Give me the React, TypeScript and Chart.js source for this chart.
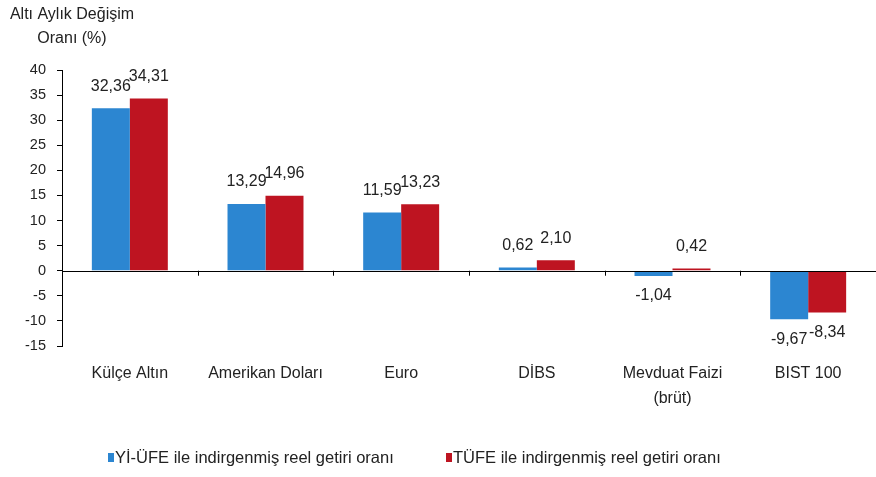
import { useEffect, useRef } from "react";
import { Chart, registerables } from "chart.js";

Chart.register(...registerables);

const categories: (string | string[])[] = [
  "Külçe Altın",
  "Amerikan Doları",
  "Euro",
  "DİBS",
  ["Mevduat Faizi", "(brüt)"],
  "BIST 100",
];
const yiUfeValues = [32.36, 13.29, 11.59, 0.62, -1.04, -9.67];
const tufeValues = [34.31, 14.96, 13.23, 2.1, 0.42, -8.34];
const seriesNames = [
  "Yİ-ÜFE ile indirgenmiş reel getiri oranı",
  "TÜFE ile indirgenmiş reel getiri oranı",
];
const seriesColors = ["#2C86D1", "#BE1421"];
const yMin = -15;
const yMax = 40;
const yStep = 5;
const titleLines = ["Altı Aylık Değişim", "Oranı (%)"];

const FONT = "'Liberation Sans', Arial, sans-serif";

const fmt = (v: number) => v.toFixed(2).replace(".", ",");

const overlayPlugin = {
  id: "overlay",
  afterDatasetsDraw(chart: any) {
    const { ctx, chartArea, scales } = chart;
    const y0 = scales.y.getPixelForValue(0);
    ctx.save();
    // zero axis line
    ctx.strokeStyle = "#000";
    ctx.lineWidth = 1;
    ctx.beginPath();
    ctx.moveTo(chartArea.left, Math.round(y0) + 0.5);
    ctx.lineTo(chartArea.right, Math.round(y0) + 0.5);
    ctx.stroke();
    const n = categories.length;
    const w = (chartArea.right - chartArea.left) / n;
    for (let i = 1; i <= n; i++) {
      const x = Math.round(chartArea.left + i * w) + 0.5;
      ctx.beginPath();
      ctx.moveTo(x, y0);
      ctx.lineTo(x, y0 + 5);
      ctx.stroke();
    }
    // data labels
    ctx.fillStyle = "#222";
    ctx.font = `16px ${FONT}`;
    ctx.textAlign = "center";
    ctx.textBaseline = "middle";
    chart.data.datasets.forEach((ds: any, di: number) => {
      const meta = chart.getDatasetMeta(di);
      meta.data.forEach((bar: any, i: number) => {
        const v = ds.data[i];
        const y = v >= 0 ? bar.y - 22 : bar.y + 20;
        ctx.fillText(fmt(v), bar.x, y);
      });
    });
    // title
    ctx.font = `16px ${FONT}`;
    ctx.fillStyle = "#222";
    titleLines.forEach((t, i) => {
      ctx.fillText(t, 72, 15 + i * 24);
    });
    // legend
    ctx.textAlign = "left";
    const legendX = [108, 446];
    ctx.font = `16.5px ${FONT}`;
    seriesNames.forEach((name, i) => {
      ctx.fillStyle = seriesColors[i];
      ctx.fillRect(legendX[i], 453, 6, 9);
      ctx.fillStyle = "#222";
      ctx.fillText(name, legendX[i] + 7, 458);
    });
    ctx.restore();
  },
};

export default function App() {
  const ref = useRef<HTMLCanvasElement | null>(null);
  useEffect(() => {
    if (!ref.current) return;
    const chart = new Chart(ref.current, {
      type: "bar",
      data: {
        labels: categories as any,
        datasets: [
          {
            label: seriesNames[0],
            data: yiUfeValues,
            backgroundColor: seriesColors[0],
            categoryPercentage: 0.56,
            barPercentage: 1,
          },
          {
            label: seriesNames[1],
            data: tufeValues,
            backgroundColor: seriesColors[1],
            categoryPercentage: 0.56,
            barPercentage: 1,
          },
        ],
      },
      options: {
        animation: false,
        responsive: false,
        maintainAspectRatio: false,
        layout: { padding: { top: 70, right: 0, left: 0, bottom: 0 } },
        plugins: {
          legend: { display: false },
          tooltip: { enabled: false },
        },
        scales: {
          x: {
            grid: { display: false, drawTicks: false },
            border: { display: false },
            ticks: {
              color: "#222",
              font: { family: FONT, size: 16, lineHeight: 1.55 },
              padding: 15,
              maxRotation: 0,
              autoSkip: false,
            },
            afterFit: (s: any) => {
              s.height = 131;
            },
          },
          y: {
            min: yMin,
            max: yMax,
            ticks: {
              stepSize: yStep,
              color: "#222",
              font: { family: FONT, size: 14.5 },
              padding: 11,
            },
            grid: {
              drawOnChartArea: false,
              drawTicks: true,
              tickLength: 5,
              color: "#000",
            },
            border: { color: "#000" },
            afterFit: (s: any) => {
              s.width = 62;
            },
          },
        },
      },
      plugins: [overlayPlugin],
    });
    return () => chart.destroy();
  }, []);
  return (
    <div style={{ position: "absolute", left: 0, top: 0, width: 876, height: 477, background: "#fff" }}>
      <canvas ref={ref} width={876} height={477} />
    </div>
  );
}
